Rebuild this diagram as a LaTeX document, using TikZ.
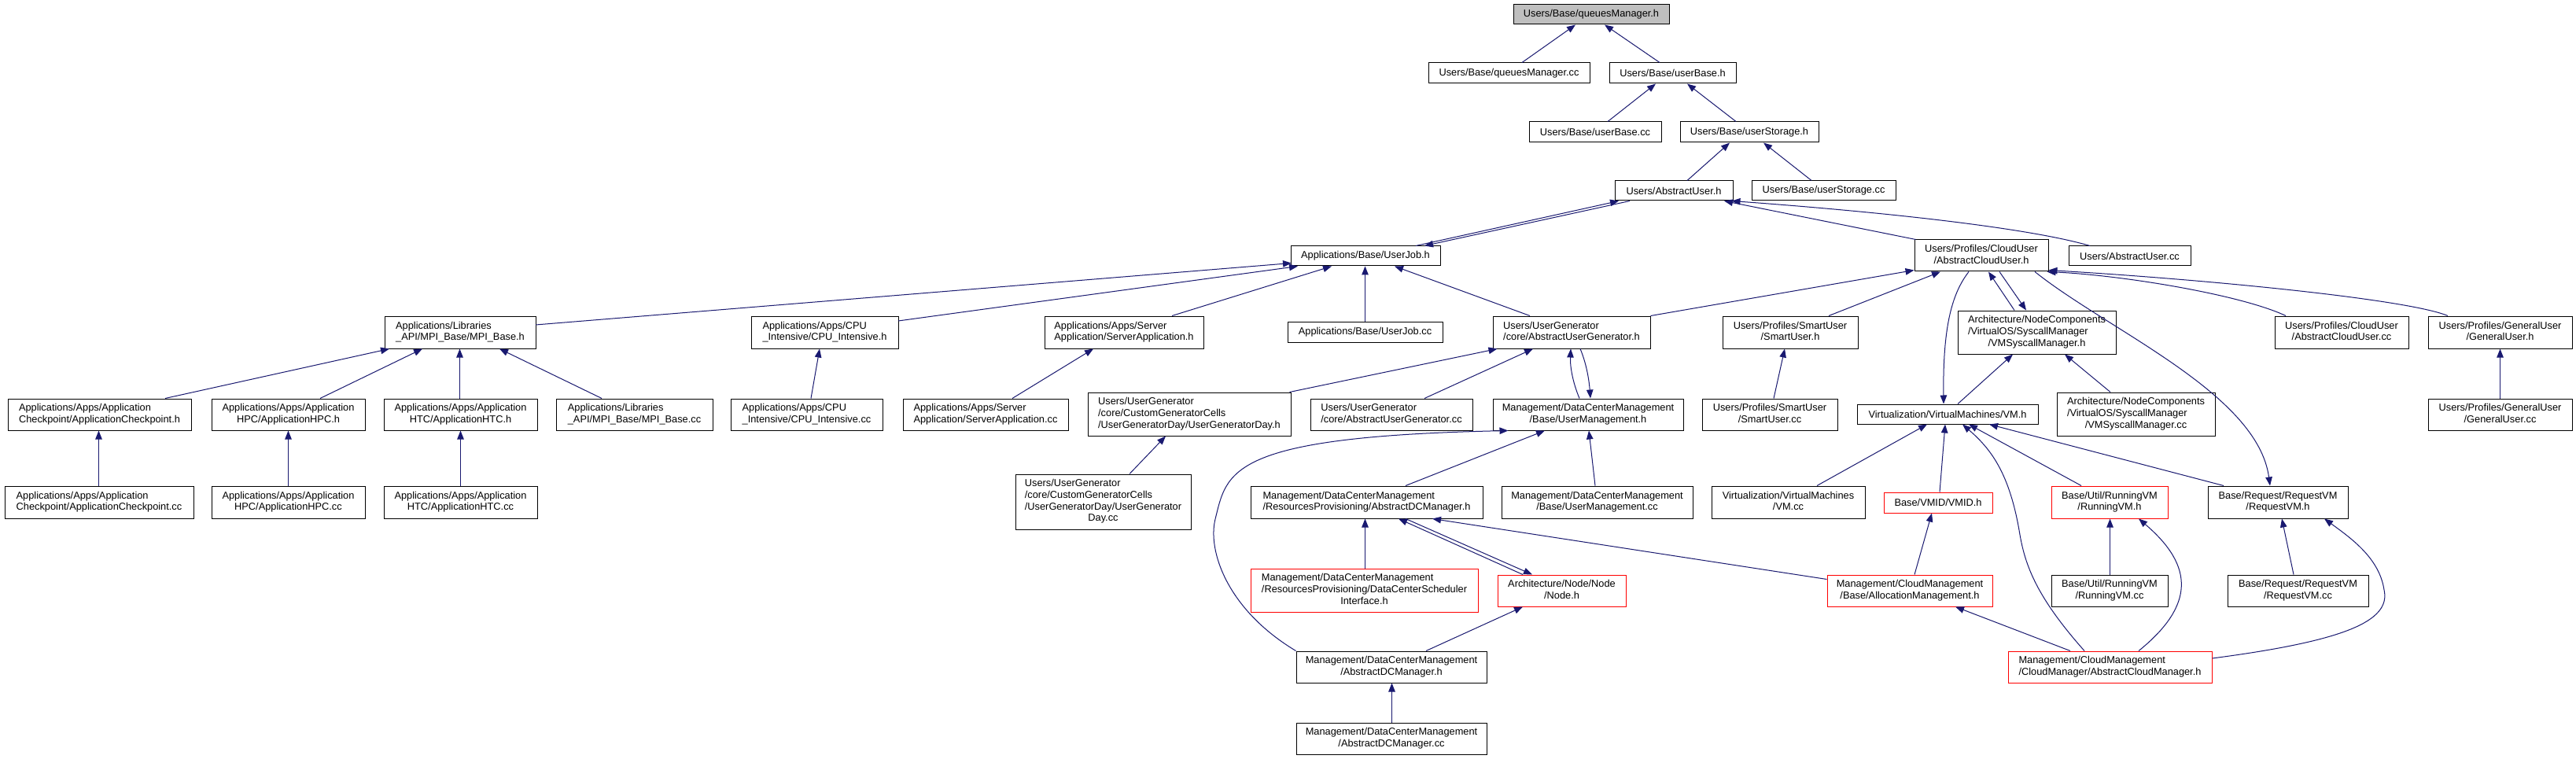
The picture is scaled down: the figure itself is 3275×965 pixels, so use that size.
\documentclass[tikz,border=0pt]{standalone}
\usepackage{fontspec}
\setmainfont{Liberation Sans}
\usetikzlibrary{arrows.meta}
\definecolor{edgeblue}{RGB}{25,25,112}
\definecolor{rootgray}{RGB}{191,191,191}
\newcommand\twoL[2]{\begin{tabular}{@{}l@{}}#1\\\multicolumn{1}{@{}c@{}}{#2}\end{tabular}}
\newcommand\threeL[3]{\begin{tabular}{@{}l@{}}#1\\#2\\\multicolumn{1}{@{}c@{}}{#3}\end{tabular}}
\newcommand\fourL[4]{\begin{tabular}{@{}l@{}}#1\\#2\\#3\\\multicolumn{1}{@{}c@{}}{#4}\end{tabular}}
\begin{document}
\begin{tikzpicture}[x=1pt,y=-1pt,
  gnode/.style={draw=black,line width=1pt,fill=white,inner sep=0pt,font=\fontsize{12.8}{14.7}\selectfont},
  rednode/.style={gnode,draw=red},
  dep/.style={draw=edgeblue,line width=1pt,-{Triangle[length=11pt,width=8.5pt]}}]
\fill[white] (0,0) rectangle (3275,965);
\useasboundingbox (0,0) rectangle (3275,965);

% level 0-3
\node[gnode,minimum width=198,minimum height=25,fill=rootgray] (qmh) at (2023,18.5) {Users/Base/queuesManager.h};
\node[gnode,minimum width=205,minimum height=26] (qmcc) at (1918.5,93) {Users/Base/queuesManager.cc};
\node[gnode,minimum width=161,minimum height=26] (ubh) at (2126.5,93) {Users/Base/userBase.h};
\node[gnode,minimum width=168,minimum height=26] (ubcc) at (2028,168) {Users/Base/userBase.cc};
\node[gnode,minimum width=176,minimum height=26] (ush) at (2224,168) {Users/Base/userStorage.h};
\node[gnode,minimum width=150,minimum height=25] (auh) at (2128,242.5) {Users/AbstractUser.h};
\node[gnode,minimum width=183,minimum height=25] (uscc) at (2318.5,242.5) {Users/Base/userStorage.cc};
% level 4
\node[gnode,minimum width=190,minimum height=25] (ujh) at (1736,325.5) {Applications/Base/UserJob.h};
\node[gnode,minimum width=170,minimum height=40] (acuh) at (2519,325) {\twoL{Users/Profiles/CloudUser}{/AbstractCloudUser.h}};
\node[gnode,minimum width=155,minimum height=25] (aucc) at (2707.5,325.5) {Users/AbstractUser.cc};
% level 5
\node[gnode,minimum width=192,minimum height=41] (mpih) at (585,422.5) {\twoL{Applications/Libraries}{\_API/MPI\_Base/MPI\_Base.h}};
\node[gnode,minimum width=187,minimum height=41] (cpuh) at (1048.5,422.5) {\twoL{Applications/Apps/CPU}{\_Intensive/CPU\_Intensive.h}};
\node[gnode,minimum width=202,minimum height=41] (srvh) at (1429,422.5) {\twoL{Applications/Apps/Server}{Application/ServerApplication.h}};
\node[gnode,minimum width=197,minimum height=26] (ujcc) at (1735.5,422) {Applications/Base/UserJob.cc};
\node[gnode,minimum width=200,minimum height=41] (augh) at (1998,422.5) {\twoL{Users/UserGenerator}{/core/AbstractUserGenerator.h}};
\node[gnode,minimum width=172,minimum height=41] (smh) at (2276,422.5) {\twoL{Users/Profiles/SmartUser}{/SmartUser.h}};
\node[gnode,minimum width=201,minimum height=55] (vmsh) at (2589.5,422.5) {\threeL{Architecture/NodeComponents}{/VirtualOS/SyscallManager}{/VMSyscallManager.h}};
\node[gnode,minimum width=170,minimum height=41] (acucc) at (2977,422.5) {\twoL{Users/Profiles/CloudUser}{/AbstractCloudUser.cc}};
\node[gnode,minimum width=183,minimum height=41] (guh) at (3178.5,422.5) {\twoL{Users/Profiles/GeneralUser}{/GeneralUser.h}};
% level 6
\node[gnode,minimum width=233,minimum height=40] (ckh) at (126.5,527) {\twoL{Applications/Apps/Application}{Checkpoint/ApplicationCheckpoint.h}};
\node[gnode,minimum width=195,minimum height=40] (hpch) at (366.5,527) {\twoL{Applications/Apps/Application}{HPC/ApplicationHPC.h}};
\node[gnode,minimum width=195,minimum height=40] (htch) at (585.5,527) {\twoL{Applications/Apps/Application}{HTC/ApplicationHTC.h}};
\node[gnode,minimum width=199,minimum height=40] (mpicc) at (806.5,527) {\twoL{Applications/Libraries}{\_API/MPI\_Base/MPI\_Base.cc}};
\node[gnode,minimum width=193,minimum height=40] (cpucc) at (1025.5,527) {\twoL{Applications/Apps/CPU}{\_Intensive/CPU\_Intensive.cc}};
\node[gnode,minimum width=210,minimum height=40] (srvcc) at (1253,527) {\twoL{Applications/Apps/Server}{Application/ServerApplication.cc}};
\node[gnode,minimum width=258,minimum height=55] (ugdh) at (1512,526.5) {\threeL{Users/UserGenerator}{/core/CustomGeneratorCells}{/UserGeneratorDay/UserGeneratorDay.h}};
\node[gnode,minimum width=206,minimum height=40] (augcc) at (1769,527) {\twoL{Users/UserGenerator}{/core/AbstractUserGenerator.cc}};
\node[gnode,minimum width=242,minimum height=40] (umh) at (2019,527) {\twoL{Management/DataCenterManagement}{/Base/UserManagement.h}};
\node[gnode,minimum width=172,minimum height=40] (smcc) at (2250,527) {\twoL{Users/Profiles/SmartUser}{/SmartUser.cc}};
\node[gnode,minimum width=230,minimum height=25] (vmh) at (2476,526.5) {Virtualization/VirtualMachines/VM.h};
\node[gnode,minimum width=201,minimum height=55] (vmscc) at (2715.5,526.5) {\threeL{Architecture/NodeComponents}{/VirtualOS/SyscallManager}{/VMSyscallManager.cc}};
\node[gnode,minimum width=183,minimum height=40] (gucc) at (3178.5,527) {\twoL{Users/Profiles/GeneralUser}{/GeneralUser.cc}};
% level 7
\node[gnode,minimum width=240,minimum height=41] (ckcc) at (126,638.5) {\twoL{Applications/Apps/Application}{Checkpoint/ApplicationCheckpoint.cc}};
\node[gnode,minimum width=195,minimum height=41] (hpccc) at (366.5,638.5) {\twoL{Applications/Apps/Application}{HPC/ApplicationHPC.cc}};
\node[gnode,minimum width=195,minimum height=41] (htccc) at (585.5,638.5) {\twoL{Applications/Apps/Application}{HTC/ApplicationHTC.cc}};
\node[gnode,minimum width=223,minimum height=70] (ugdcc) at (1402.5,638) {\fourL{Users/UserGenerator}{/core/CustomGeneratorCells}{/UserGeneratorDay/UserGenerator}{Day.cc}};
\node[gnode,minimum width=295,minimum height=41] (rpadh) at (1737.5,638.5) {\twoL{Management/DataCenterManagement}{/ResourcesProvisioning/AbstractDCManager.h}};
\node[gnode,minimum width=243,minimum height=41] (umcc) at (2030.5,638.5) {\twoL{Management/DataCenterManagement}{/Base/UserManagement.cc}};
\node[gnode,minimum width=195,minimum height=41] (vmcc) at (2273.5,638.5) {\twoL{Virtualization/VirtualMachines}{/VM.cc}};
\node[rednode,minimum width=138,minimum height=26] (vmidh) at (2464,639) {Base/VMID/VMID.h};
\node[rednode,minimum width=148,minimum height=41] (rvmh) at (2682,638.5) {\twoL{Base/Util/RunningVM}{/RunningVM.h}};
\node[gnode,minimum width=178,minimum height=41] (rqvmh) at (2896,638.5) {\twoL{Base/Request/RequestVM}{/RequestVM.h}};
% level 8
\node[rednode,minimum width=289,minimum height=55] (dcsih) at (1734.5,750.5) {\threeL{Management/DataCenterManagement}{/ResourcesProvisioning/DataCenterScheduler}{Interface.h}};
\node[rednode,minimum width=163,minimum height=40] (nodeh) at (1985.5,751) {\twoL{Architecture/Node/Node}{/Node.h}};
\node[rednode,minimum width=210,minimum height=40] (amh) at (2428,751) {\twoL{Management/CloudManagement}{/Base/AllocationManagement.h}};
\node[gnode,minimum width=148,minimum height=40] (rvmcc) at (2682,751) {\twoL{Base/Util/RunningVM}{/RunningVM.cc}};
\node[gnode,minimum width=179,minimum height=40] (rqvmcc) at (2921.5,751) {\twoL{Base/Request/RequestVM}{/RequestVM.cc}};
% level 9-10
\node[gnode,minimum width=242,minimum height=40] (dcadh) at (1769,848) {\twoL{Management/DataCenterManagement}{/AbstractDCManager.h}};
\node[rednode,minimum width=259,minimum height=40] (acmh) at (2682.5,848) {\twoL{Management/CloudManagement}{/CloudManager/AbstractCloudManager.h}};
\node[gnode,minimum width=242,minimum height=40] (dcadcc) at (1769,939) {\twoL{Management/DataCenterManagement}{/AbstractDCManager.cc}};

% edges, top part
\draw[dep] ([xshift=16.5]qmcc.north) -- ([xshift=-20]qmh.south);
\draw[dep] ([xshift=-16.5]ubh.north) -- ([xshift=17]qmh.south);
\draw[dep] ([xshift=16]ubcc.north) -- ([xshift=-21.5]ubh.south);
\draw[dep] ([xshift=-17]ush.north) -- ([xshift=18.5]ubh.south);
\draw[dep] ([xshift=17]auh.north) -- ([xshift=-25]ush.south);
\draw[dep] ([xshift=-15.5]uscc.north) -- ([xshift=18]ush.south);
\draw[dep] ([xshift=64]ujh.north) -- ([xshift=-70]auh.south);
\draw[dep] ([xshift=-56]auh.south) -- ([xshift=75]ujh.north);
\draw[dep] ([xshift=2]acuh.north west) -- ([xshift=64]auh.south);
\draw[dep] ([xshift=-50.5]aucc.north) .. controls (2580,290) and (2400,270) .. ([xshift=-2]auh.south east);
% into UserJob.h / AbstractCloudUser.h
\draw[dep] ([shift={(96,-9.5)}]mpih.center) -- ([shift={(-94,9)}]ujh.center);
\draw[dep] ([shift={(93.5,-14.5)}]cpuh.center) -- ([xshift=-86]ujh.south);
\draw[dep] ([xshift=61]srvh.north) -- ([xshift=-43]ujh.south);
\draw[dep] (ujcc.north) -- ([xshift=-0.5]ujh.south);
\draw[dep] ([xshift=-53]augh.north) -- ([xshift=37]ujh.south);
\draw[dep] (augh.north east) -- ([shift={(0,-2)}]acuh.south west);
\draw[dep] ([xshift=49]smh.north) -- ([xshift=-52]acuh.south);
\draw[dep] ([xshift=-16]acuh.south) .. controls (2480,375) and (2470,420) .. ([xshift=-5]vmh.north);
\draw[dep] ([xshift=-28.5]vmsh.north) -- ([xshift=9]acuh.south);
\draw[dep] ([xshift=23]acuh.south) -- ([xshift=-13.5]vmsh.north);
\draw[dep] ([xshift=13]vmh.north) -- ([xshift=-30.5]vmsh.south);
\draw[dep] ([xshift=-32.5]vmscc.north) -- ([xshift=35.5]vmsh.south);
\draw[dep] ([xshift=68]acuh.south) .. controls (2680,420) and (2870,500) .. ([xshift=-10]rqvmh.north);
\draw[dep] ([xshift=-71]acucc.north) .. controls (2850,375) and (2700,350) .. ([xshift=-2]acuh.south east);
\draw[dep] ([xshift=-66.5]guh.north) .. controls (3060,380) and (2800,355) .. ([yshift=2]acuh.south east);
% level 6 -> 5
\draw[dep] ([xshift=83.5]ckh.north) -- ([xshift=-90]mpih.south);
\draw[dep] ([xshift=40.5]hpch.north) -- ([xshift=-48]mpih.south);
\draw[dep] ([xshift=-1]htch.north) -- ([xshift=-0.5]mpih.south);
\draw[dep] ([xshift=-41.5]mpicc.north) -- ([xshift=50]mpih.south);
\draw[dep] ([xshift=5.5]cpucc.north) -- ([xshift=-6.5]cpuh.south);
\draw[dep] ([xshift=34]srvcc.north) -- ([xshift=-39]srvh.south);
\draw[dep] ([xshift=-2]ugdh.north east) -- ([xshift=6]augh.south west);
\draw[dep] ([xshift=42]augcc.north) -- ([xshift=-49]augh.south);
\draw[dep] ([xshift=-11]umh.north) .. controls (1999,485) and (1996,465) .. ([xshift=-1]augh.south);
\draw[dep] ([xshift=11]augh.south) .. controls (2016,460) and (2020,480) .. ([xshift=3]umh.north);
\draw[dep] ([xshift=5]smcc.north) -- ([xshift=-7]smh.south);
\draw[dep] (gucc.north) -- (guh.south);
% level 7 -> 6
\draw[dep] ([xshift=-0.5]ckcc.north) -- ([xshift=-1]ckh.south);
\draw[dep] (hpccc.north) -- (hpch.south);
\draw[dep] (htccc.north) -- (htch.south);
\draw[dep] ([xshift=33.5]ugdcc.north) -- ([xshift=-30]ugdh.south);
\draw[dep] ([xshift=49.5]rpadh.north) -- ([xshift=-55]umh.south);
\draw[dep] ([xshift=-2.5]umcc.north) -- ([xshift=1]umh.south);
\draw[dep] ([xshift=36.5]vmcc.north) -- ([xshift=-26]vmh.south);
\draw[dep] ([xshift=2]vmidh.north) -- ([xshift=-3]vmh.south);
\draw[dep] ([xshift=-36]rvmh.north) -- ([xshift=27]vmh.south);
\draw[dep] ([xshift=-69]rqvmh.north) -- ([xshift=53]vmh.south);
\draw[dep] (dcadh.north west) .. controls (1560,775) and (1535,700) .. (1545,660) .. controls (1560,600) and (1560,555) .. ([xshift=20]umh.south west);
% level 8 -> 7
\draw[dep] ([xshift=1]dcsih.north) -- ([xshift=-2]rpadh.south);
\draw[dep] ([xshift=-49.5]nodeh.north) -- ([xshift=40.5]rpadh.south);
\draw[dep] ([xshift=49.5]rpadh.south) -- ([xshift=-37.5]nodeh.north);
\draw[dep] ([shift={(0,6)}]amh.north west) -- ([xshift=83.5]rpadh.south);
\draw[dep] ([xshift=6]amh.north) -- ([xshift=-8]vmidh.south);
\draw[dep] ([xshift=0.5]rvmcc.north) -- ([xshift=0.5]rvmh.south);
\draw[dep] ([xshift=-5.5]rqvmcc.north) -- ([xshift=5]rqvmh.south);
% level 9 -> 8 and below
\draw[dep] ([xshift=44]dcadh.north) -- ([xshift=-49.5]nodeh.south);
\draw[dep] ([xshift=-50.5]acmh.north) -- ([xshift=58]amh.south);
\draw[dep] ([xshift=-32.5]acmh.north) .. controls (2590,760) and (2575,720) .. (2568,680) .. controls (2555,600) and (2530,570) .. ([xshift=19]vmh.south);
\draw[dep] ([xshift=36.5]acmh.north) .. controls (2790,770) and (2790,720) .. ([xshift=37]rvmh.south);
\draw[dep] ([shift={(0,-11)}]acmh.east) .. controls (2980,815) and (3040,790) .. (3031,750) .. controls (3025,710) and (2990,685) .. ([xshift=59]rqvmh.south);
\draw[dep] ([xshift=0.5]dcadcc.north) -- ([xshift=0.5]dcadh.south);
\end{tikzpicture}
\end{document}
